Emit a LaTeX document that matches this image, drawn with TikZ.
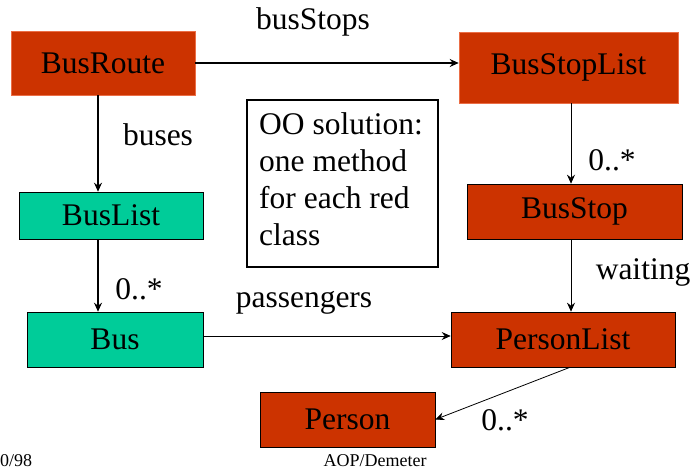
\documentclass[tikz,border=0pt]{standalone}
\usepackage{fontspec}
\setmainfont{Liberation Serif}
\newfontfamily\timesfont{Liberation Serif}
\usetikzlibrary{arrows.meta}

\begin{document}
\begin{tikzpicture}[x=1pt, y=-1pt, font=\timesfont\fontsize{31.5}{37}\selectfont]
		% Defines colors to match the image
		\definecolor{redclass}{RGB}{204, 51, 0} % Red classes
		\definecolor{greenclass}{RGB}{0, 204, 153} % Green classes
		\definecolor{rededge}{RGB}{235, 110, 70} % Light edge of top boxes
		
		\tikzset{
			redbox/.style={fill=redclass, draw=black, line width=0.6pt, inner sep=0pt},
			greenbox/.style={fill=greenclass, draw=black, line width=0.6pt, inner sep=0pt},
			assoc/.style={-{Stealth[length=9pt, width=8pt, inset=3pt]}, line width=0.8pt},
			rolelabel/.style={inner sep=0pt}
		}
		
		\useasboundingbox (0,0) rectangle (692,470);
		
		% --- Classes ---
		% Boxes placed at their centres, sizes taken from the visual
		\node[redbox, draw=rededge, minimum width=184, minimum height=64] (busroute) at (103, 63) {BusRoute};
		\node[redbox, draw=rededge, minimum width=219, minimum height=71] (busstoplist) at (568.5, 67.5) {BusStopList};
		\node[greenbox, minimum width=184, minimum height=47] (buslist) at (111, 215.5) {BusList};
		\node[greenbox, minimum width=176, minimum height=55] (bus) at (115, 339.5) {Bus};
		\node[redbox, minimum width=215, minimum height=55] (busstop) at (574.5, 211.5) {BusStop};
		\node[redbox, minimum width=224, minimum height=55] (personlist) at (563, 339.5) {PersonList};
		\node[redbox, minimum width=175, minimum height=55] (person) at (347.5, 419.5) {Person};
		
		% --- Note ---
		\node[draw, line width=1.5pt, minimum width=191, minimum height=167, inner sep=0pt] (note) at (342.5, 183.5) {};
		\node[anchor=north west, align=left, inner sep=0pt] (notetext) at (259, 112) {OO solution:\\one method\\for each red\\class};
		
		% --- Associations ---
		\draw[assoc, line width=1.3pt] (busroute.east) -- (busroute.east -| busstoplist.west);
		\draw[assoc, line width=1.2pt] ([xshift=-5pt]busroute.south) -- ([xshift=-5pt]busroute.south |- buslist.north);
		\draw[assoc, line width=1.2pt] ([xshift=-13pt]buslist.south) -- ([xshift=-13pt]buslist.south |- bus.north);
		\draw[assoc] ([xshift=2.5pt]busstoplist.south) -- ([xshift=2.5pt]busstoplist.south |- busstop.north);
		\draw[assoc] ([xshift=-3.5pt]busstop.south) -- ([xshift=-3.5pt]busstop.south |- personlist.north);
		\draw[assoc] ([yshift=3.5pt]bus.east) -- ([yshift=3.5pt]bus.east -| personlist.west);
		\draw[assoc] ([xshift=7pt]personlist.south) -- (person.east);
		
		% --- Role names ---
		\node[rolelabel] (lbusstops) at (313, 22) {busStops};
		\node[rolelabel] (lbuses) at (158, 135) {buses};
		\node[rolelabel] (lmanybus) at (139, 289) {0..*};
		\node[rolelabel] (lmanystop) at (612, 160) {0..*};
		\node[rolelabel] (lwaiting) at (643, 272) {waiting};
		\node[rolelabel] (lpassengers) at (304, 303) {passengers};
		\node[rolelabel] (lmanyperson) at (505, 420) {0..*};
		
		% --- Footer ---
		\node[font=\timesfont\fontsize{18}{20}\selectfont, anchor=west, inner sep=0pt] (date) at (0, 461) {0/98};
		\node[font=\timesfont\fontsize{18}{20}\selectfont, inner sep=0pt] (footer) at (375, 461) {AOP/Demeter};
		
	\end{tikzpicture}
\end{document}
